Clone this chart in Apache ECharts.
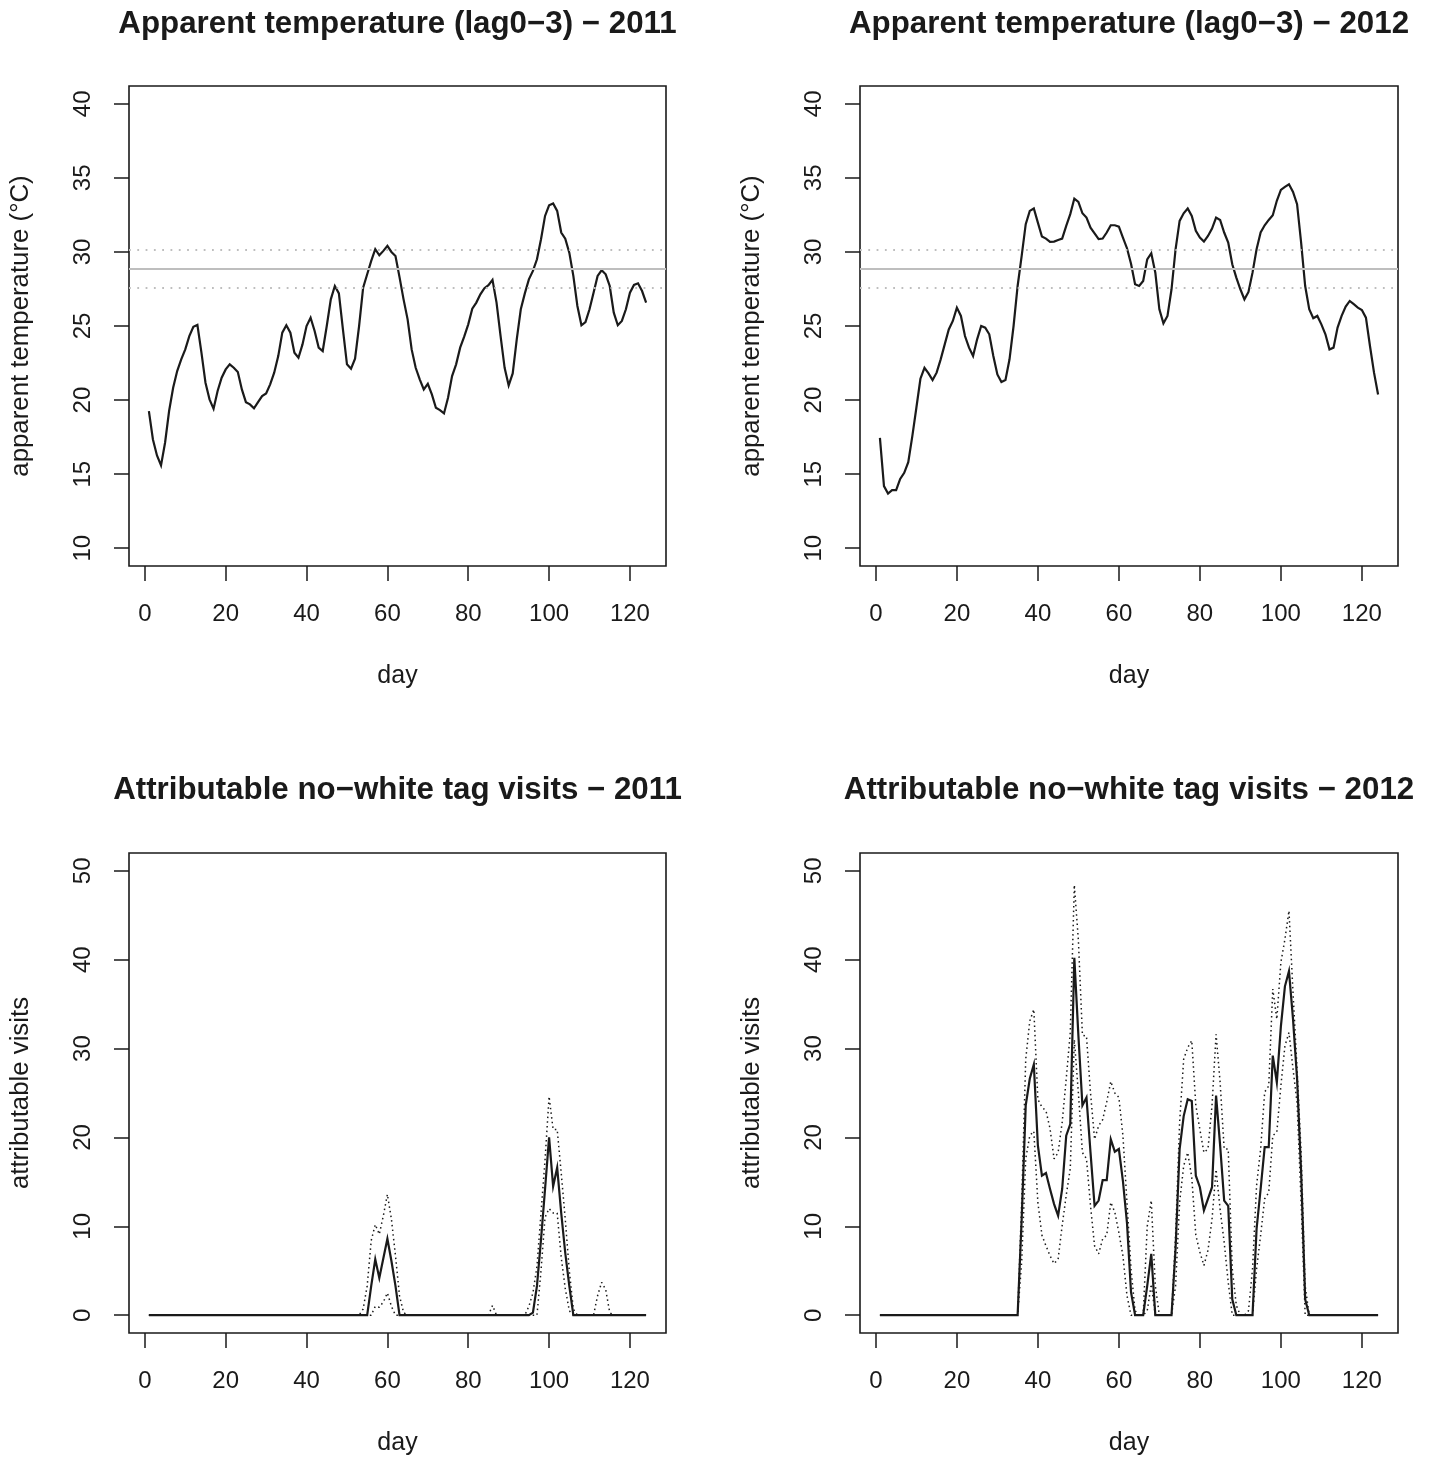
<!DOCTYPE html>
<html><head><meta charset="utf-8">
<script src="https://cdn.jsdelivr.net/npm/echarts@6/dist/echarts.min.js"></script>
<style>html,body{margin:0;padding:0;background:#fff}#c{width:1434px;height:1458px}</style>
</head><body><div id="c"></div>
<script>
// ---------- DATA ----------
const titles = [
  'Apparent temperature (lag0\u22123) \u2212 2011',
  'Apparent temperature (lag0\u22123) \u2212 2012',
  'Attributable no\u2212white tag visits \u2212 2011',
  'Attributable no\u2212white tag visits \u2212 2012'
];
const xTicks = [0, 20, 40, 60, 80, 100, 120];
const tempTicks = [10, 15, 20, 25, 30, 35, 40];
const visitTicks = [0, 10, 20, 30, 40, 50];
const thresholdMid = [28.87];
const thresholdBand = [30.13, 27.57];

const temp2011 = [
 19.26,17.34,16.26,15.59,17.12,19.26,20.83,21.96,22.75,23.42,
 24.32,24.95,25.07,23.2,21.17,20.05,19.41,20.61,21.51,22.07,
 22.41,22.18,21.89,20.72,19.86,19.71,19.44,19.86,20.27,20.45,
 21.06,21.85,22.97,24.55,25.05,24.55,23.2,22.86,23.76,25.0,
 25.56,24.66,23.54,23.31,25.0,26.8,27.7,27.2,24.77,22.41,
 22.12,22.79,25.0,27.59,28.49,29.39,30.18,29.77,30.07,30.41,
 30.0,29.73,28.3,26.8,25.45,23.42,22.18,21.4,20.72,21.1,
 20.38,19.48,19.32,19.1,20.16,21.62,22.41,23.54,24.28,25.11,
 26.17,26.58,27.14,27.55,27.75,28.11,26.58,24.32,22.18,20.99,
 21.8,24.1,26.13,27.2,28.15,28.72,29.5,30.86,32.43,33.15,
 33.27,32.77,31.31,30.9,29.95,28.38,26.35,25.05,25.27,26.13,
 27.25,28.38,28.76,28.49,27.7,25.9,25.05,25.34,26.13,27.25,
 27.77,27.88,27.36,26.58
];
const temp2012 = [
 17.45,14.19,13.69,13.92,13.92,14.68,15.09,15.81,17.57,19.48,
 21.44,22.18,21.8,21.35,21.85,22.75,23.76,24.77,25.34,26.24,
 25.68,24.32,23.54,22.97,24.1,25.0,24.89,24.44,22.97,21.73,
 21.22,21.35,22.75,25.0,27.7,29.73,31.87,32.77,32.93,31.98,
 31.04,30.9,30.68,30.7,30.81,30.9,31.76,32.55,33.6,33.38,
 32.61,32.32,31.64,31.26,30.86,30.9,31.31,31.8,31.8,31.71,
 30.97,30.25,29.2,27.82,27.7,28.04,29.5,29.91,28.6,26.13,
 25.18,25.68,27.48,30.18,32.09,32.61,32.93,32.43,31.42,30.97,
 30.7,31.08,31.58,32.32,32.16,31.31,30.63,29.17,28.27,27.48,
 26.8,27.3,28.6,30.18,31.31,31.8,32.16,32.48,33.45,34.19,
 34.39,34.57,34.05,33.22,30.63,27.7,26.13,25.52,25.68,25.11,
 24.44,23.42,23.54,24.89,25.68,26.31,26.69,26.47,26.24,26.08,
 25.56,23.65,21.85,20.38
];
const visits2011 = [
 0,0,0,0,0,0,0,0,0,0,
 0,0,0,0,0,0,0,0,0,0,
 0,0,0,0,0,0,0,0,0,0,
 0,0,0,0,0,0,0,0,0,0,
 0,0,0,0,0,0,0,0,0,0,
 0,0,0,0,0,3.3,6.3,4.2,6.4,8.6,
 6.1,3.3,0,0,0,0,0,0,0,0,
 0,0,0,0,0,0,0,0,0,0,
 0,0,0,0,0,0,0,0,0,0,
 0,0,0,0,0,0.3,3.3,8.5,14.2,20.0,
 14.5,16.6,11.5,7.0,3.3,0,0,0,0,0,
 0,0,0,0,0,0,0,0,0,0,
 0,0,0,0
];
const upper2011 = [
 0,0,0,0,0,0,0,0,0,0,
 0,0,0,0,0,0,0,0,0,0,
 0,0,0,0,0,0,0,0,0,0,
 0,0,0,0,0,0,0,0,0,0,
 0,0,0,0,0,0,0,0,0,0,
 0,0,0,0.7,3.3,8.4,10.2,9.1,11.2,13.6,
 10.8,6.7,2.2,0.3,0,0,0,0,0,0,
 0,0,0,0,0,0,0,0,0,0,
 0,0,0,0,0,1.1,0,0,0,0,
 0,0,0,0,1.0,2.5,5.5,11.5,17.5,24.6,
 20.9,20.9,16.0,10.8,5.0,0.7,0,0,0,0,
 0,2.2,3.7,2.9,0.3,0,0,0,0,0,
 0,0,0,0
];
const lower2011 = [
 0,0,0,0,0,0,0,0,0,0,
 0,0,0,0,0,0,0,0,0,0,
 0,0,0,0,0,0,0,0,0,0,
 0,0,0,0,0,0,0,0,0,0,
 0,0,0,0,0,0,0,0,0,0,
 0,0,0,0,0,0,1.0,0.9,1.5,2.5,
 1.0,0,0,0,0,0,0,0,0,0,
 0,0,0,0,0,0,0,0,0,0,
 0,0,0,0,0,0,0,0,0,0,
 0,0,0,0,0,0,0,5.0,11.0,12.0,
 11.5,11.5,6.5,3.0,0.5,0,0,0,0,0,
 0,0,0,0,0,0,0,0,0,0,
 0,0,0,0
];
const visits2012 = [
 0,0,0,0,0,0,0,0,0,0,
 0,0,0,0,0,0,0,0,0,0,
 0,0,0,0,0,0,0,0,0,0,
 0,0,0,0,0,10.8,23.6,26.6,28.2,19.1,
 15.7,16.0,14.2,12.5,11.2,14.2,20.2,21.5,40.2,31.5,
 23.6,24.5,18.3,12.3,12.9,15.2,15.2,19.8,18.4,18.7,
 15.1,10.4,2.6,0,0,0,3.3,6.9,0,0,
 0,0,0,7.5,18.7,22.4,24.3,24.1,15.7,14.4,
 11.8,13.1,14.4,24.7,19.1,12.9,12.3,1.8,0,0,
 0,0,0,9.7,14.2,18.9,18.9,29.2,26.2,32.5,
 37.0,38.7,33.3,26.6,16.1,1.8,0,0,0,0,
 0,0,0,0,0,0,0,0,0,0,
 0,0,0,0
];
const upper2012 = [
 0,0,0,0,0,0,0,0,0,0,
 0,0,0,0,0,0,0,0,0,0,
 0,0,0,0,0,0,0,0,0,0,
 0,0,0,0,0,12.7,28.8,33.1,34.4,24.3,
 23.4,23.0,21.0,17.6,18.3,21.7,26.6,31.8,48.4,42.2,
 31.5,31.4,25.0,19.8,21.3,22.0,24.0,26.3,25.0,24.5,
 20.2,12.7,5.2,0.5,0,0,10.0,12.9,3.3,0,
 0,0,0,9.0,21.7,28.8,30.1,30.9,23.6,20.9,
 18.3,18.7,23.6,31.6,26.2,18.7,18.7,5.2,1.1,0,
 0,0.5,5.2,14.6,18.7,25.1,25.8,36.7,33.3,39.7,
 42.3,45.5,36.3,27.7,18.3,3.3,0,0,0,0,
 0,0,0,0,0,0,0,0,0,0,
 0,0,0,0
];
const lower2012 = [
 0,0,0,0,0,0,0,0,0,0,
 0,0,0,0,0,0,0,0,0,0,
 0,0,0,0,0,0,0,0,0,0,
 0,0,0,0,0,6.0,17.6,20.2,20.7,12.7,
 9.0,7.8,6.7,5.8,6.3,10.1,13.5,16.5,31.0,25.0,
 18.3,17.6,12.3,7.8,6.9,8.6,9.0,12.7,11.6,9.3,
 6.7,2.2,0,0,0,0,0.5,3.5,0,0,
 0,0,0,3.3,12.7,16.8,18.3,15.5,9.0,7.1,
 5.6,7.3,10.8,16.4,11.9,8.2,3.7,0,0,0,
 0,0,0,5.2,9.0,13.1,13.8,20.2,20.6,25.8,
 30.3,31.8,27.7,23.9,12.7,0,0,0,0,0,
 0,0,0,0,0,0,0,0,0,0,
 0,0,0,0
];
const days = temp2011.map((_, i) => i + 1);

// ---------- CHART ----------
const FONT = '"Liberation Sans", Arial, Helvetica, sans-serif';
const INK = '#1a1a1a';
const pair = arr => arr.map((v, i) => [days[i], v]);

const grids = [
  {left: 129, top: 86, width: 537, height: 480},
  {left: 860, top: 86, width: 538, height: 480},
  {left: 129, top: 853, width: 537, height: 480},
  {left: 860, top: 853, width: 538, height: 480}
].map(g => Object.assign({show: true, borderColor: INK, borderWidth: 1.6, backgroundColor: 'transparent'}, g));

const xRange = [1 - 0.04 * 123, 124 + 0.04 * 123];
const tempRange = [10 - 1.2, 40 + 1.2];
const visitRange = [0 - 2, 50 + 2];

function xAxis(i) {
  return {
    gridIndex: i, type: 'value', min: xRange[0], max: xRange[1], position: 'bottom',
    axisLine: {show: false, onZero: false}, splitLine: {show: false},
    axisTick: {show: true, inside: false, length: 15, customValues: xTicks, lineStyle: {color: INK, width: 1.5}},
    axisLabel: {customValues: xTicks, fontSize: 24, color: INK, margin: 36, fontFamily: FONT},
    name: 'day', nameLocation: 'middle', nameGap: 98,
    nameTextStyle: {fontSize: 25, color: INK, fontFamily: FONT}
  };
}
function yAxis(i, range, ticks, name) {
  return {
    gridIndex: i, type: 'value', min: range[0], max: range[1], position: 'left',
    axisLine: {show: false, onZero: false}, splitLine: {show: false},
    axisTick: {show: true, inside: false, length: 15, customValues: ticks, lineStyle: {color: INK, width: 1.5}},
    axisLabel: {customValues: ticks, rotate: 90, fontSize: 24, color: INK, margin: 34, fontFamily: FONT},
    name: name, nameLocation: 'middle', nameGap: 95,
    nameTextStyle: {fontSize: 25.8, color: INK, fontFamily: FONT}
  };
}

const gray = '#bebebe';
function refLines(i) {
  return {
    type: 'line', xAxisIndex: i, yAxisIndex: i, data: [], silent: true, z: 1,
    markLine: {
      silent: true, symbol: 'none', label: {show: false}, animation: false,
      data: [
        ...thresholdMid.map(v => ({yAxis: v, lineStyle: {type: 'solid', color: gray, width: 2}})),
        ...thresholdBand.map(v => ({yAxis: v, lineStyle: {type: [1.8, 6.5], color: gray, width: 1.8}}))
      ]
    }
  };
}
function line(i, arr, dotted) {
  return {
    type: 'line', xAxisIndex: i, yAxisIndex: i, data: pair(arr),
    showSymbol: false, symbol: 'none', silent: true, z: 3, animation: false,
    lineStyle: dotted ? {color: INK, width: 1.5, type: [1.5, 3.2]} : {color: INK, width: 2.2, join: 'miter'}
  };
}

const titleCenters = [129 + 537 / 2, 860 + 538 / 2, 129 + 537 / 2, 860 + 538 / 2];
const titleTops = [9, 9, 775, 775];

const option = {
  backgroundColor: '#ffffff',
  animation: false,
  title: titles.map((t, i) => ({
    text: t, left: titleCenters[i], top: titleTops[i], textAlign: 'center', padding: 0,
    textStyle: {fontSize: 31.3, fontWeight: 'bold', color: INK, fontFamily: FONT}
  })),
  grid: grids,
  xAxis: [0, 1, 2, 3].map(xAxis),
  yAxis: [
    yAxis(0, tempRange, tempTicks, 'apparent temperature (\u00b0C)'),
    yAxis(1, tempRange, tempTicks, 'apparent temperature (\u00b0C)'),
    yAxis(2, visitRange, visitTicks, 'attributable visits'),
    yAxis(3, visitRange, visitTicks, 'attributable visits')
  ],
  series: [
    refLines(0), refLines(1),
    line(0, temp2011, false), line(1, temp2012, false),
    line(2, upper2011, true), line(2, lower2011, true), line(2, visits2011, false),
    line(3, upper2012, true), line(3, lower2012, true), line(3, visits2012, false)
  ]
};
const chart = echarts.init(document.getElementById('c'), null, {renderer: 'canvas'});
chart.setOption(option);
</script>
</body></html>
